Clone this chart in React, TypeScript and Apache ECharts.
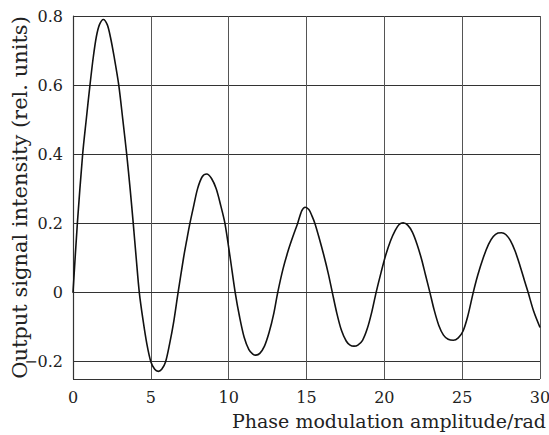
import React, { useEffect, useRef } from "react";
import * as echarts from "echarts";

const xValues = [
  0, 0.28, 0.62, 0.85, 1.09, 1.3, 1.5, 1.7, 1.95, 2.2, 2.4, 2.65, 2.94, 3.2, 3.45, 3.67, 3.87, 4.06, 4.26,
  4.5, 4.75, 5.0, 5.25, 5.48, 5.7, 5.95, 6.2, 6.45, 6.75,
  7.1, 7.3, 7.51, 7.75, 8.0, 8.3, 8.59, 8.9, 9.2, 9.5, 9.76, 10.1, 10.42,
  10.7, 11.0, 11.3, 11.55, 11.75, 12.0, 12.3, 12.6, 12.9, 13.15,
  13.5, 13.85, 14.15, 14.43, 14.7, 14.92, 15.15, 15.35, 15.54, 15.8, 16.1, 16.4, 16.66,
  16.95, 17.25, 17.55, 17.8, 18.05, 18.3, 18.6, 18.9, 19.2, 19.47,
  19.8, 20.1, 20.4, 20.7, 20.95, 21.21, 21.5, 21.8, 22.1, 22.4, 22.65, 22.93,
  23.2, 23.5, 23.8, 24.1, 24.43, 24.75, 25.05, 25.35, 25.71,
  26.0, 26.35, 26.7, 27.0, 27.3, 27.53, 27.8, 28.1, 28.4, 28.7, 29.0, 29.24, 29.6, 30,
];
const yValues = [
  0, 0.2, 0.4, 0.5, 0.6, 0.68, 0.74, 0.775, 0.79, 0.775, 0.74, 0.68, 0.6, 0.5, 0.4, 0.3, 0.2, 0.1, 0,
  -0.08, -0.15, -0.2, -0.222, -0.228, -0.222, -0.2, -0.15, -0.09, 0,
  0.1, 0.15, 0.2, 0.25, 0.3, 0.335, 0.343, 0.33, 0.3, 0.25, 0.2, 0.1, 0,
  -0.07, -0.13, -0.165, -0.178, -0.181, -0.176, -0.155, -0.115, -0.06, 0,
  0.07, 0.125, 0.165, 0.2, 0.237, 0.247, 0.24, 0.222, 0.2, 0.16, 0.11, 0.055, 0,
  -0.06, -0.11, -0.14, -0.152, -0.155, -0.152, -0.138, -0.105, -0.055, 0,
  0.06, 0.11, 0.15, 0.18, 0.197, 0.202, 0.195, 0.175, 0.14, 0.095, 0.05, 0,
  -0.05, -0.095, -0.123, -0.135, -0.138, -0.131, -0.112, -0.07, 0,
  0.05, 0.1, 0.14, 0.162, 0.172, 0.173, 0.168, 0.15, 0.12, 0.08, 0.035, 0, -0.055, -0.101,
];
const xTicks = [0, 5, 10, 15, 20, 25, 30];
const yTicks = [-0.2, 0, 0.2, 0.4, 0.6, 0.8];
const xName = "Phase modulation amplitude/rad";
const yName = "Output signal intensity (rel. units)";

const FONT = "'DejaVu Serif', 'Liberation Serif', serif";

export default function App() {
  const ref = useRef<HTMLDivElement>(null);
  useEffect(() => {
    if (!ref.current) return;
    const chart = echarts.init(ref.current, undefined, { renderer: "svg" });
    const data = xValues.map((x, i) => [x, yValues[i]]);
    chart.setOption({
      animation: false,
      backgroundColor: "#fff",
      grid: {
        left: 73,
        top: 16,
        right: 9,
        bottom: 56,
        containLabel: false,
        outerBoundsMode: "none",
      },
      graphic: [
        {
          type: "text",
          right: 3,
          top: 411,
          style: {
            text: xName,
            font: `19px ${FONT}`,
            fill: "#222",
          },
        },
      ],
      xAxis: {
        type: "value",
        min: xTicks[0],
        max: xTicks[xTicks.length - 1],
        interval: 5,
        axisLine: { show: true, lineStyle: { color: "#333", width: 1.2 } },
        axisTick: { show: false },
        axisLabel: {
          fontFamily: FONT,
          fontSize: 16,
          color: "#222",
          margin: 10,
          formatter: (v: number) => (xTicks.includes(v) ? String(v) : ""),
        },
        splitLine: { show: true, lineStyle: { color: "#555", width: 1 } },
      },
      yAxis: {
        type: "value",
        min: -0.25,
        max: 0.8,
        splitNumber: 5,
        name: yName,
        nameLocation: "middle",
        nameGap: 43,
        nameMoveOverlap: false,
        nameTextStyle: { fontFamily: FONT, fontSize: 21, color: "#222" },
        axisLine: { show: true, lineStyle: { color: "#333", width: 1.2 } },
        axisTick: { show: false },
        axisLabel: {
          fontFamily: FONT,
          fontSize: 16,
          color: "#222",
          margin: 10,
          showMinLabel: false,
          formatter: (v: number) => {
            const t = yTicks.find((k) => Math.abs(k - v) < 1e-6);
            if (t === undefined) return "";
            return t < 0 ? "\u2212" + String(Math.abs(t)) : String(t);
          },
        },
        splitLine: { show: true, lineStyle: { color: "#333", width: 1 } },
      },
      series: [
        {
          type: "line",
          data,
          smooth: 0.3,
          showSymbol: false,
          lineStyle: { color: "#111", width: 1.6 },
        },
      ],
    });
    return () => chart.dispose();
  }, []);
  return <div ref={ref} style={{ width: 549, height: 435, position: "absolute", left: 0, top: 0 }} />;
}
